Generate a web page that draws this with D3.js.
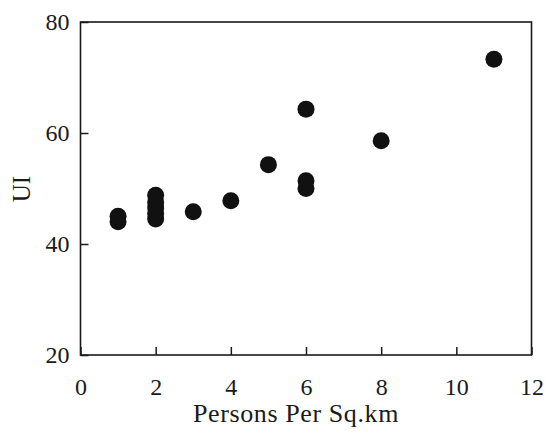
<!DOCTYPE html>
<html>
<head>
<meta charset="utf-8">
<script src="https://cdn.jsdelivr.net/npm/d3@7"></script>
<style>
  body { margin: 0; background: #fff; }
</style>
</head>
<body>
<svg id="chart" width="546" height="434"></svg>
<script>
// density (persons per sq.km) vs UI
var density = [1, 1, 2, 2, 2, 2, 2, 3, 4, 5, 6, 6, 6, 8, 11];
var ui      = [44, 45, 44.5, 45.5, 46.5, 47.5, 48.8, 45.8, 47.8, 54.3, 50, 51.4, 64.3, 58.6, 73.3];
var xTicks = [0, 2, 4, 6, 8, 10, 12];
var yTicks = [20, 40, 60, 80];

var font = '"Liberation Serif"';

var margin = {top: 22, right: 14.5, bottom: 79, left: 80.5},
    width = 546 - margin.left - margin.right,
    height = 434 - margin.top - margin.bottom;

var svg = d3.select('#chart');
var g = svg.append('g').attr('transform', 'translate(' + margin.left + ',' + margin.top + ')');

var x = d3.scaleLinear().domain([0, 12]).range([0, width]);
var y = d3.scaleLinear().domain([20, 80]).range([height, 0]);

var xAxis = g.append('g')
    .attr('transform', 'translate(0,' + height + ')')
    .call(d3.axisBottom(x).tickValues(xTicks).tickSizeInner(-8).tickSizeOuter(0).tickPadding(23));
var yAxis = g.append('g')
    .call(d3.axisLeft(y).tickValues(yTicks).tickSizeInner(-8).tickSizeOuter(0).tickPadding(11));

[xAxis, yAxis].forEach(function(a) {
    a.attr('font-family', null).attr('font-size', null);
    a.select('.domain').remove();
    a.selectAll('line').attr('stroke', '#1a1a1a').attr('stroke-width', 1.5);
    a.selectAll('text')
        .style('font-family', font)
        .style('font-size', '24px')
        .attr('fill', '#1a1a1a');
});

// frame round the plot
g.append('rect')
    .attr('width', width).attr('height', height)
    .attr('fill', 'none').attr('stroke', '#1a1a1a').attr('stroke-width', 1.6);

g.selectAll('circle')
    .data(density)
    .enter()
    .append('circle')
    .attr('cx', function(d) { return x(d); })
    .attr('cy', function(d, i) { return y(ui[i]); })
    .attr('r', 8.5)
    .attr('fill', '#111');

svg.append('text')
    .attr('x', 296).attr('y', 422)
    .attr('text-anchor', 'middle')
    .attr('fill', '#1a1a1a')
    .style('font-family', font)
    .style('font-size', '26px')
    .style('letter-spacing', '0.6px')
    .text('Persons Per Sq.km');

svg.append('text')
    .attr('transform', 'translate(30,189) rotate(-90)')
    .attr('text-anchor', 'middle')
    .attr('fill', '#1a1a1a')
    .style('font-family', font)
    .style('font-size', '25px')
    .text('UI');
</script>
</body>
</html>
